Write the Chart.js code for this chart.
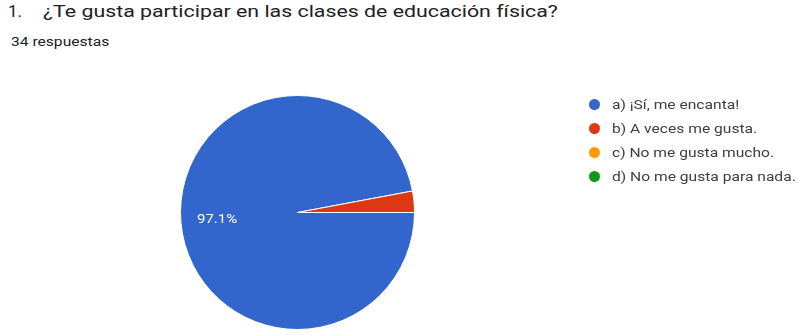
<!DOCTYPE html>
<html lang="es">
<head>
<meta charset="utf-8">
<script src="https://cdn.jsdelivr.net/npm/chart.js@4/dist/chart.umd.min.js"></script>
<style>
  html, body { margin: 0; padding: 0; background: #fff; overflow: hidden; }
  body { width: 798px; height: 335px; position: relative; font-family: Roboto, Arial, sans-serif; }
  #chart-wrap { position: absolute; left: 0; top: 0; width: 798px; height: 335px; }
  .wide { display: inline-block; transform-origin: 0 50%; white-space: nowrap; }
  .title { position: absolute; left: 8px; top: 3px; font-size: 17px; line-height: 17px; color: #202124; white-space: nowrap; }
  .title .num { position: absolute; left: 0; top: 0; }
  .title .q { position: absolute; left: 35px; top: 0; transform: scaleX(1.255); }
  .count { position: absolute; left: 11px; top: 36px; font-size: 12px; line-height: 12px; color: #202124; transform: scaleX(1.3); }
  #legend { position: absolute; left: 589px; top: 99px; }
  .item { position: relative; height: 24px; }
  .dot { position: absolute; left: 0; top: 0; width: 11px; height: 11px; border-radius: 50%; }
  .label { position: absolute; left: 23px; top: -1px; font-size: 13px; line-height: 13px; color: #3c4043; transform: scaleX(1.2); }
</style>
</head>
<body>
<div class="title"><span class="num">1.</span><span class="q wide">¿Te gusta participar en las clases de educación física?</span></div>
<div class="count wide">34 respuestas</div>
<div id="chart-wrap"><canvas id="pieChart"></canvas></div>
<div id="legend"></div>
<script>
// answers and how many people picked each one
const answers = ['a) ¡Sí, me encanta!', 'b) A veces me gusta.', 'c) No me gusta mucho.', 'd) No me gusta para nada.'];
const counts = [33, 1, 0, 0];
const sliceColors = ['#3366cc', '#dc3912', '#ff9900', '#109618'];

const total = counts.reduce((a, b) => a + b, 0);

// white percentage text inside the bigger slices
const sliceLabels = {
  id: 'sliceLabels',
  afterDatasetsDraw(chart) {
    const ctx = chart.ctx;
    const meta = chart.getDatasetMeta(0);
    meta.data.forEach((arc, i) => {
      const share = counts[i] / total;
      if (share < 0.05) return;
      const p = arc.getProps(['x', 'y', 'startAngle', 'endAngle', 'outerRadius'], true);
      const mid = (p.startAngle + p.endAngle) / 2;
      const r = p.outerRadius * 0.69;
      ctx.save();
      ctx.translate(p.x + Math.cos(mid) * r, p.y + Math.sin(mid) * r);
      ctx.scale(1.25, 1);
      ctx.fillStyle = '#ffffff';
      ctx.font = '12px Roboto, Arial, sans-serif';
      ctx.textAlign = 'center';
      ctx.textBaseline = 'middle';
      ctx.fillText((share * 100).toFixed(1) + '%', 0, 0);
      ctx.restore();
    });
  }
};

new Chart(document.getElementById('pieChart'), {
  type: 'pie',
  data: {
    labels: answers,
    datasets: [{
      data: counts,
      backgroundColor: sliceColors,
      borderColor: '#ffffff',
      borderWidth: 1
    }]
  },
  options: {
    responsive: true,
    maintainAspectRatio: false,
    animation: false,
    rotation: 90,
    layout: { padding: { left: 180, right: 383, top: 95, bottom: 5 } },
    plugins: {
      legend: { display: false },
      tooltip: { enabled: false }
    }
  },
  plugins: [sliceLabels]
});

// legend on the right, one row per answer
const legendEl = document.getElementById('legend');
answers.forEach((text, i) => {
  const row = document.createElement('div');
  row.className = 'item';
  const dot = document.createElement('span');
  dot.className = 'dot';
  dot.style.background = sliceColors[i];
  const label = document.createElement('span');
  label.className = 'label wide';
  label.textContent = text;
  row.appendChild(dot);
  row.appendChild(label);
  legendEl.appendChild(row);
});
</script>
</body>
</html>
